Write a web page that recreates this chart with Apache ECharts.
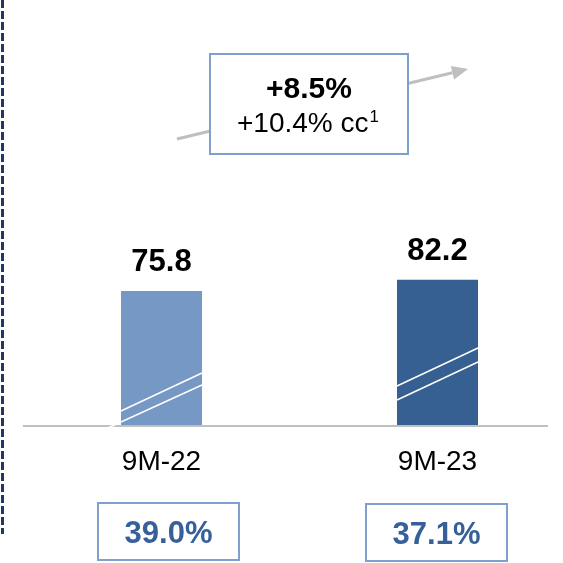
<!DOCTYPE html>
<html>
<head>
<meta charset="utf-8">
<script src="https://cdn.jsdelivr.net/npm/echarts@6/dist/echarts.min.js"></script>
<style>
  html, body { margin: 0; padding: 0; background: #ffffff; }
  #chart { width: 563px; height: 563px; }
</style>
</head>
<body>
<div id="chart"></div>
<script>
// Revenue by period (bars), margin per period, growth callout
const categories = ['9M-22', '9M-23'];
const revenue = [75.8, 82.2];
const margins = [39.0, 37.1];
const growthReported = '+8.5%';
const growthConstantCurrency = '+10.4%';

const FONT = "'Liberation Sans', Arial, sans-serif";
const barColors = ['#7698C4', '#376092'];
const boxBorder = '#7F9FCF';

const chart = echarts.init(document.getElementById('chart'), null, { renderer: 'canvas' });

chart.setOption({
  animation: false,
  backgroundColor: '#ffffff',
  grid: {
    left: 23.5, width: 552, top: 248, bottom: 137,
    containLabel: false, outerBoundsMode: 'none'
  },
  xAxis: {
    type: 'category',
    data: categories,
    axisLine: { show: false },
    axisTick: { show: false },
    axisLabel: { color: '#000000', fontFamily: FONT, fontSize: 28, margin: 22 }
  },
  yAxis: {
    type: 'value', min: 0, max: 100,
    show: false
  },
  series: [{
    type: 'bar',
    barWidth: 81,
    data: revenue.map((v, i) => ({ value: v, itemStyle: { color: barColors[i] } })),
    label: {
      show: true, position: 'top', distance: 13,
      color: '#000000', fontFamily: FONT, fontSize: 31, fontWeight: 'bold',
      formatter: p => p.value.toFixed(1)
    }
  }]
});

// Decorations placed relative to the axes
const baseY = chart.convertToPixel({ xAxisIndex: 0, yAxisIndex: 0 }, [0, 0])[1];
const centers = categories.map((c, i) => chart.convertToPixel({ xAxisIndex: 0, yAxisIndex: 0 }, [i, 0])[0]);
const halfBar = 40.5;

const g = [];

// left divider
g.push({
  type: 'line', z: 10,
  shape: { x1: 2.5, y1: 0, x2: 2.5, y2: 534 },
  style: { stroke: '#1F3864', lineWidth: 3, lineDash: [8, 3] }
});

// baseline
g.push({
  type: 'line', z: 5,
  shape: { x1: 23, y1: baseY, x2: 548, y2: baseY },
  style: { stroke: '#BFBFBF', lineWidth: 2 }
});

// axis-break strokes across each bar (offsets above the baseline: left end, right end)
const breaks = [
  { left: [15, 4], right: [53, 41], extend: 34 },
  { left: [40, 26], right: [78, 64], extend: 0 }
];
breaks.forEach((b, i) => {
  const x1 = centers[i] - halfBar, x2 = centers[i] + halfBar;
  for (let k = 0; k < 2; k++) {
    const y1 = baseY - b.left[k], y2 = baseY - b.right[k];
    g.push({
      type: 'line', z: 20,
      shape: { x1: x1, y1: y1, x2: x2, y2: y2 },
      style: { stroke: '#ffffff', lineWidth: 1.5 }
    });
  }
  if (b.extend) {
    const slope = (b.right[1] - b.left[1]) / (x2 - x1);
    g.push({
      type: 'line', z: 20,
      shape: { x1: x1 - b.extend, y1: baseY - b.left[1] + slope * b.extend, x2: x1, y2: baseY - b.left[1] },
      style: { stroke: '#ffffff', lineWidth: 1.5 }
    });
  }
});

// growth arrow
const ax1 = 177, ay1 = 139, ax2 = 468, ay2 = 69;
const len = Math.hypot(ax2 - ax1, ay2 - ay1);
const ux = (ax2 - ax1) / len, uy = (ay2 - ay1) / len;
const headL = 16, headW = 7;
const bx = ax2 - ux * headL, by = ay2 - uy * headL;
g.push({
  type: 'line', z: 30,
  shape: { x1: ax1, y1: ay1, x2: bx, y2: by },
  style: { stroke: '#BFBFBF', lineWidth: 3 }
});
g.push({
  type: 'polygon', z: 30,
  shape: { points: [[ax2, ay2], [bx - uy * headW, by + ux * headW], [bx + uy * headW, by - ux * headW]] },
  style: { fill: '#BFBFBF' }
});

// growth callout box
g.push({
  type: 'rect', z: 40,
  shape: { x: 210, y: 54, width: 198, height: 100 },
  style: { fill: '#ffffff', stroke: boxBorder, lineWidth: 2 }
});
g.push({
  type: 'text', z: 41,
  x: 309, y: 90,
  style: {
    text: growthReported, align: 'center', verticalAlign: 'middle',
    font: 'bold 30px ' + FONT, fill: '#000000'
  }
});
g.push({
  type: 'text', z: 41,
  x: 308, y: 124,
  style: {
    text: '{a|' + growthConstantCurrency + ' cc}{s|1}',
    align: 'center', verticalAlign: 'middle',
    rich: {
      a: { fontFamily: FONT, fontSize: 28, color: '#000000', lineHeight: 30 },
      s: { fontFamily: FONT, fontSize: 17, color: '#000000', verticalAlign: 'top', lineHeight: 30, padding: [0, 0, 0, 1] }
    }
  }
});

// margin boxes under each period
const marginBoxes = [
  { x: 98, y: 503 },
  { x: 366, y: 504 }
];
margins.forEach((m, i) => {
  const bxm = marginBoxes[i];
  g.push({
    type: 'rect', z: 40,
    shape: { x: bxm.x, y: bxm.y, width: 141, height: 57 },
    style: { fill: '#ffffff', stroke: boxBorder, lineWidth: 2 }
  });
  g.push({
    type: 'text', z: 41,
    x: bxm.x + 70.5, y: bxm.y + 31,
    style: {
      text: m.toFixed(1) + '%', align: 'center', verticalAlign: 'middle',
      font: 'bold 31px ' + FONT, fill: '#36609A'
    }
  });
});

chart.setOption({ graphic: g });
</script>
</body>
</html>
